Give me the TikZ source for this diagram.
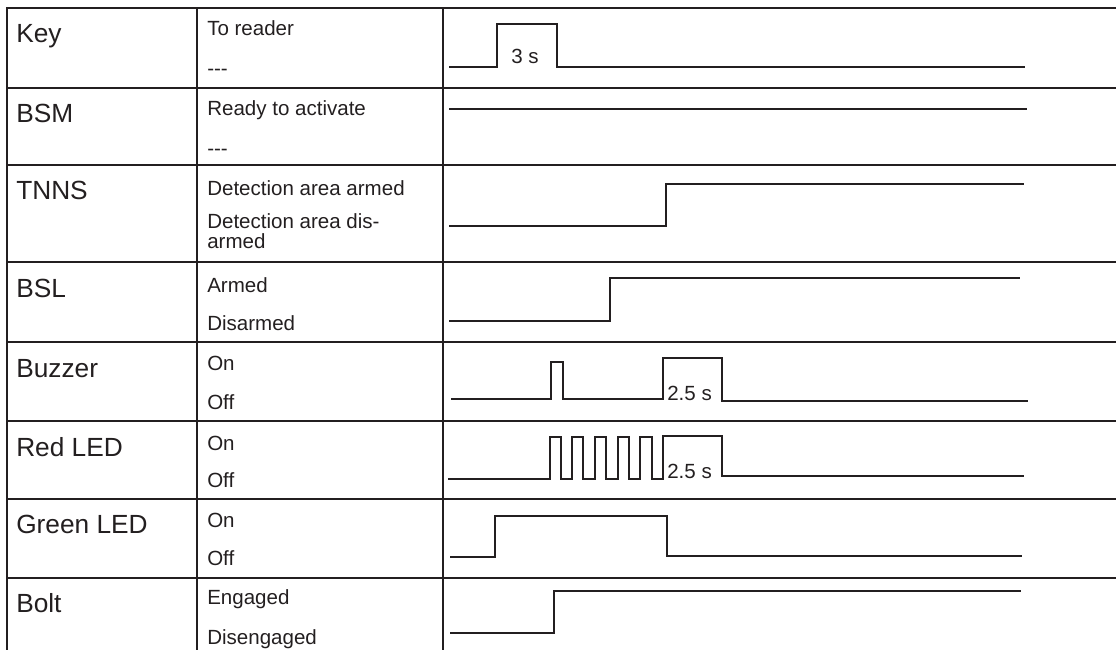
\documentclass[tikz,border=0pt]{standalone}
\usepackage{fontspec}
\setmainfont{Liberation Sans}
\begin{document}
\begin{tikzpicture}[x=0.75pt,y=-0.75pt,
    gridline/.style={line width=1.5pt, draw=inkcol},
    wave/.style={line width=1.1pt, draw=inkcol},
    signame/.style={anchor=base west, inner sep=0pt, text=inkcol, font=\fontsize{19.7}{24}\selectfont},
    sigstate/.style={anchor=base west, inner sep=0pt, text=inkcol, align=left, font=\fontsize{15.4}{15}\selectfont},
    duration/.style={anchor=base west, inner sep=0pt, text=inkcol, font=\fontsize{15.4}{15}\selectfont}]

    % Cores
    \definecolor{inkcol}{RGB}{35, 31, 32} % quase preto

    \useasboundingbox (0,0) rectangle (1116,650);

    % 1. Grade da tabela
    \draw[gridline] (1116,8) -- (7,8) -- (7,650);
    \draw[gridline] (197,8) -- (197,650);
    \draw[gridline] (443,8) -- (443,650);
    \foreach \y in {88,165,262,342,421,499,578}
        \draw[gridline] (7,\y) -- (1116,\y);

    % 2. Nomes dos sinais (coluna 1)
    \node[signame] (key)    at (16,42)  {Key};
    \node[signame] (bsm)    at (16,122) {BSM};
    \node[signame] (tnns)   at (16,199) {TNNS};
    \node[signame] (bsl)    at (16,297) {BSL};
    \node[signame] (buzzer) at (16,377) {Buzzer};
    \node[signame] (redled) at (16,456) {Red LED};
    \node[signame] (grnled) at (16,533) {Green LED};
    \node[signame] (bolt)   at (16,612) {Bolt};

    % 3. Estados (coluna 2)
    \node[sigstate] (keyhi)    at (207,35)  {To reader};
    \node[sigstate] (keylo)    at (207,75)  {-{}-{}-};
    \node[sigstate] (bsmhi)    at (207,115) {Ready to activate};
    \node[sigstate] (bsmlo)    at (207,155) {-{}-{}-};
    \node[sigstate] (tnnshi)   at (207,195) {Detection area armed};
    \node[sigstate] (tnnslo)   at (207,248) {Detection area dis-\\armed}; % base = ultima linha
    \node[sigstate] (bslhi)    at (207,292) {Armed};
    \node[sigstate] (bsllo)    at (207,330) {Disarmed};
    \node[sigstate] (buzzerhi) at (207,370) {On};
    \node[sigstate] (buzzerlo) at (207,409) {Off};
    \node[sigstate] (redledhi) at (207,450) {On};
    \node[sigstate] (redledlo) at (207,487) {Off};
    \node[sigstate] (grnledhi) at (207,527) {On};
    \node[sigstate] (grnledlo) at (207,565) {Off};
    \node[sigstate] (bolthi)   at (207,604) {Engaged};
    \node[sigstate] (boltlo)   at (207,644) {Disengaged};

    % 4. Formas de onda (coluna 3)
    \draw[wave] (449,67) -| (497,24) -| (557,67) -- (1025,67);
    \draw[wave] (449,109) -- (1027,109);
    \draw[wave] (449,226) -| (666,184) -- (1024,184);
    \draw[wave] (449,321) -| (610,278) -- (1020,278);
    \draw[wave] (451,399) -| (551,362) -| (563,399) -| (663,358) -| (722,401) -- (1028,401);
    \draw[wave] (448,479) -| (550,437) -| (561,479) -| (572,437) -| (583,479)
        -| (595,437) -| (606,479) -| (618,437) -| (629,479) -| (640,437) -| (652,479)
        -| (663,436) -| (722,476) -- (1024,476);
    \draw[wave] (450,557) -| (495,516) -| (667,556) -- (1022,556);
    \draw[wave] (450,633) -| (554,591) -- (1021,591);

    % 5. Duracoes
    \node[duration] (keytime)    at (511,63)  {3 s};
    \node[duration] (buzzertime) at (667,400) {2.5 s};
    \node[duration] (redledtime) at (667,478) {2.5 s};

\end{tikzpicture}
\end{document}
